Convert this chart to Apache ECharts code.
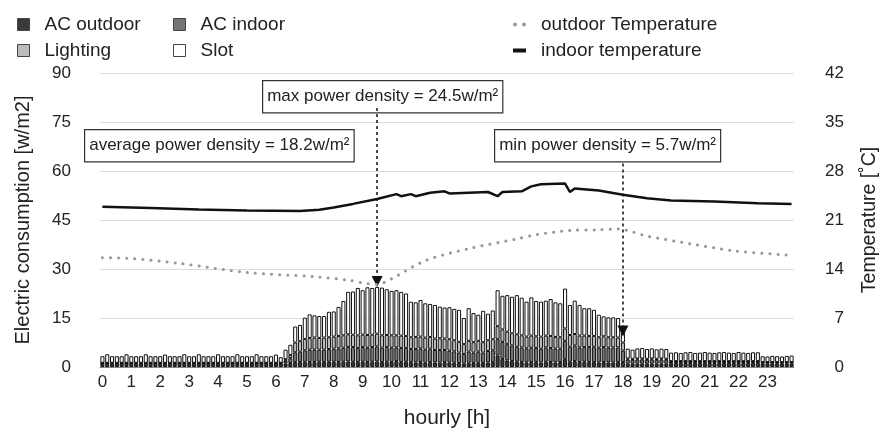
<!DOCTYPE html>
<html>
<head>
<meta charset="utf-8">
<script src="https://cdn.jsdelivr.net/npm/echarts/dist/echarts.min.js"></script>
<style>
  html, body { margin: 0; padding: 0; background: #fff; }
  #chart { width: 888px; height: 434px; }
</style>
</head>
<body>
<div id="chart"></div>
<script>
// tick labels / categories (10-minute steps)
const hours = ['0','1','2','3','4','5','6','7','8','9','10','11','12','13','14','15','16','17','18','19','20','21','22','23'];
const minutes = ['00','10','20','30','40','50'];

// total height of each stacked bar [w/m2]
const totalLoad = [
  3.3, 3.9, 3.3, 3.3, 3.3, 3.9,
  3.3, 3.3, 3.3, 3.9, 3.3, 3.3,
  3.3, 3.8, 3.3, 3.3, 3.3, 3.9,
  3.3, 3.3, 3.9, 3.3, 3.3, 3.3,
  3.9, 3.3, 3.3, 3.3, 3.9, 3.3,
  3.3, 3.3, 3.9, 3.3, 3.3, 3.3,
  3.8, 3.0, 5.3, 6.8, 12.4, 12.9,
  15.1, 16.1, 15.8, 15.6, 15.6, 16.9,
  17.0, 18.4, 20.2, 23.0, 23.1, 24.2,
  23.5, 24.4, 24.2, 24.5, 24.3, 23.8,
  23.3, 23.5, 23.0, 22.5, 20.0, 19.8,
  20.5, 19.5, 19.3, 19.0, 18.5, 18.2,
  18.3, 17.8, 17.5, 15.0, 18.0, 16.5,
  16.0, 17.2, 16.3, 17.3, 23.5, 21.8,
  22.0, 21.5, 22.0, 21.2, 20.0, 21.3,
  20.2, 20.0, 20.3, 20.8, 19.8, 19.5,
  24.0, 19.0, 20.3, 19.0, 18.0, 18.0,
  17.5, 16.0, 15.5, 15.2, 15.2, 15.0,
  10.5, 5.6, 5.3, 5.7, 5.8, 5.5,
  5.7, 5.4, 5.6, 5.5, 4.4, 4.5,
  4.3, 4.5, 4.6, 4.3, 4.4, 4.6,
  4.4, 4.3, 4.5, 4.6, 4.4, 4.3,
  4.6, 4.4, 4.3, 4.5, 4.5, 3.3,
  3.2, 3.4, 3.3, 3.2, 3.4, 3.5
];

const acOutdoor = [
  1.0, 1.0, 1.0, 1.0, 1.0, 1.0,
  1.0, 1.0, 1.0, 1.0, 1.0, 1.0,
  1.0, 1.0, 1.0, 1.0, 1.0, 1.0,
  1.0, 1.0, 1.0, 1.0, 1.0, 1.0,
  1.0, 1.0, 1.0, 1.0, 1.0, 1.0,
  1.0, 1.0, 1.0, 1.0, 1.0, 1.0,
  1.0, 1.0, 1.1, 1.2, 1.5, 1.5,
  1.6, 1.5, 1.5, 1.6, 1.5, 1.6,
  1.6, 1.5, 1.6, 1.7, 1.6, 1.5,
  1.6, 1.5, 1.6, 1.7, 1.5, 1.6,
  1.5, 1.8, 1.5, 1.6, 1.5, 1.4,
  1.5, 1.3, 1.5, 1.4, 1.3, 1.5,
  1.4, 1.3, 1.2, 1.0, 1.3, 1.2,
  1.3, 1.2, 1.4, 1.5, 3.5, 2.5,
  2.0, 1.8, 1.6, 1.5, 1.4, 1.5,
  1.5, 1.4, 1.6, 1.5, 1.4, 1.5,
  2.5, 1.6, 1.8, 1.5, 1.6, 1.5,
  1.5, 1.4, 1.5, 1.4, 1.4, 1.5,
  1.5, 1.0, 1.0, 1.0, 1.0, 1.0,
  1.0, 1.0, 1.0, 1.0, 1.2, 1.2,
  1.2, 1.2, 1.2, 1.2, 1.2, 1.2,
  1.2, 1.2, 1.2, 1.2, 1.2, 1.2,
  1.2, 1.2, 1.2, 1.2, 1.2, 1.0,
  1.0, 1.0, 1.0, 1.0, 1.0, 1.0
];

const acIndoor = [
  0.2, 0.2, 0.2, 0.2, 0.2, 0.2,
  0.2, 0.2, 0.2, 0.2, 0.2, 0.2,
  0.2, 0.2, 0.2, 0.2, 0.2, 0.2,
  0.2, 0.2, 0.2, 0.2, 0.2, 0.2,
  0.2, 0.2, 0.2, 0.2, 0.2, 0.2,
  0.2, 0.2, 0.2, 0.2, 0.2, 0.2,
  0.2, 0.2, 0.8, 1.5, 3.0, 3.2,
  3.5, 3.8, 3.8, 3.7, 3.8, 3.9,
  4.0, 4.2, 4.3, 4.4, 4.5, 4.3,
  4.5, 4.4, 4.5, 4.6, 4.4, 4.5,
  4.4, 4.2, 4.3, 4.2, 4.0, 4.1,
  4.2, 4.0, 4.1, 3.8, 3.9, 3.7,
  3.6, 3.5, 3.2, 3.0, 3.4, 3.2,
  3.4, 3.2, 3.5, 3.6, 5.0, 5.2,
  5.0, 4.8, 4.6, 4.5, 4.3, 4.4,
  4.3, 4.2, 4.4, 4.3, 4.2, 4.1,
  5.5, 4.6, 4.8, 4.5, 4.5, 4.6,
  4.7, 4.5, 4.6, 4.5, 4.6, 4.5,
  3.5, 1.3, 1.2, 1.3, 1.3, 1.2,
  1.3, 1.2, 1.3, 1.2, 0.5, 0.5,
  0.5, 0.5, 0.5, 0.5, 0.5, 0.5,
  0.5, 0.5, 0.5, 0.5, 0.5, 0.5,
  0.5, 0.5, 0.5, 0.5, 0.5, 0.4,
  0.4, 0.4, 0.4, 0.4, 0.4, 0.4
];

const lighting = [
  0.1, 0.1, 0.1, 0.1, 0.1, 0.1,
  0.1, 0.1, 0.1, 0.1, 0.1, 0.1,
  0.1, 0.1, 0.1, 0.1, 0.1, 0.1,
  0.1, 0.1, 0.1, 0.1, 0.1, 0.1,
  0.1, 0.1, 0.1, 0.1, 0.1, 0.1,
  0.1, 0.1, 0.1, 0.1, 0.1, 0.1,
  0.1, 0.1, 0.5, 1.0, 3.0, 3.2,
  3.5, 3.6, 3.7, 3.6, 3.7, 3.6,
  3.7, 3.8, 3.8, 3.9, 3.8, 3.9,
  3.8, 3.9, 3.8, 3.9, 3.8, 3.7,
  3.8, 3.7, 3.8, 3.7, 3.6, 3.7,
  3.6, 3.7, 3.6, 3.5, 3.6, 3.5,
  3.5, 3.4, 3.3, 3.0, 3.3, 3.2,
  3.3, 3.2, 3.3, 3.4, 4.0, 3.8,
  3.8, 3.7, 3.8, 3.7, 3.6, 3.7,
  3.6, 3.7, 3.6, 3.7, 3.6, 3.5,
  3.8, 3.6, 3.5, 3.6, 3.5, 3.4,
  3.3, 3.2, 3.3, 3.2, 3.1, 3.0,
  2.5, 0.3, 0.3, 0.3, 0.3, 0.3,
  0.3, 0.3, 0.3, 0.3, 0.1, 0.1,
  0.1, 0.1, 0.1, 0.1, 0.1, 0.1,
  0.1, 0.1, 0.1, 0.1, 0.1, 0.1,
  0.1, 0.1, 0.1, 0.1, 0.1, 0.1,
  0.1, 0.1, 0.1, 0.1, 0.1, 0.1
];

// temperatures [°C] read at [bar index, value]
const indoorTemp = [
  [0, 22.9], [10, 22.7], [20, 22.5], [30, 22.35], [41, 22.3], [45, 22.45],
  [48, 22.8], [52, 23.3], [57, 24.0], [61, 24.7], [62, 24.4], [64, 24.7],
  [65, 24.4], [68, 24.9], [71, 25.1], [72, 24.8], [76, 24.9], [80, 25.0],
  [82, 24.4], [83, 25.0], [87, 25.1], [89, 25.8], [91, 26.1], [96, 26.2],
  [97, 25.0], [98, 25.5], [103, 25.2], [108, 24.6], [113, 24.1], [118, 23.8],
  [127, 23.65], [136, 23.4], [143, 23.3]
];
const outdoorTemp = [
  [0, 15.6], [6, 15.5], [16, 14.8], [30, 13.5], [44, 12.9], [51, 12.4],
  [55, 11.9], [57, 11.8], [60, 12.6], [67, 15.2], [76, 16.9], [86, 18.3],
  [90, 18.9], [97, 19.5], [103, 19.6], [107, 19.7], [113, 18.7], [122, 17.6],
  [131, 16.6], [142, 16.0]
];

const categories = [];
hours.forEach(h => minutes.forEach(m => categories.push(h + ':' + m)));
const slot = totalLoad.map((t, i) => +(t - acOutdoor[i] - acIndoor[i] - lighting[i]).toFixed(2));

const FONT = 'Liberation Sans, Arial, sans-serif';
const chart = echarts.init(document.getElementById('chart'));

function barSeries(name, data, color) {
  return {
    name: name,
    type: 'bar',
    stack: 'load',
    data: data,
    barCategoryGap: '15%',
    itemStyle: { color: color, borderColor: '#111', borderWidth: 1 },
    animation: false
  };
}

function legendItem(name, left, top, extra) {
  return Object.assign({
    data: [name],
    left: left,
    top: top,
    icon: 'rect',
    itemWidth: 12,
    itemHeight: 12,
    selectedMode: false,
    itemStyle: { borderColor: '#444', borderWidth: 1 },
    textStyle: { fontFamily: FONT, fontSize: 19, color: '#222', padding: [0, 0, 0, 10] }
  }, extra || {});
}

const slotSeries = barSeries('Slot', slot, '#ffffff');
slotSeries.markLine = {
  silent: true,
  animation: false,
  symbol: ['none', 'triangle'],
  symbolSize: [11, 11],
  lineStyle: { type: [3, 3], color: '#111', width: 1.5 },
  label: { show: false },
  data: [
    [{ coord: [57, 79.3] }, { coord: [57, 26.2] }],
    [{ coord: [108, 62.3] }, { coord: [108, 11.0] }]
  ]
};

chart.setOption({
  animation: false,
  textStyle: { fontFamily: FONT },
  grid: { left: 100, right: 91, top: 73, bottom: 65 },
  legend: [
    legendItem('AC outdoor', 12, 10),
    legendItem('AC indoor', 168, 10),
    legendItem('Lighting', 12, 36),
    legendItem('Slot', 168, 36),
    legendItem('outdoor Temperature', 508, 10, {
      icon: 'path://M0,2a2,2 0 1,0 4,0a2,2 0 1,0 -4,0z M9,2a2,2 0 1,0 4,0a2,2 0 1,0 -4,0z',
      itemWidth: 13, itemHeight: 4, itemStyle: { borderWidth: 0 }
    }),
    legendItem('indoor temperature', 508, 36, {
      itemWidth: 13, itemHeight: 4, itemStyle: { borderWidth: 0 }
    })
  ],
  xAxis: {
    type: 'category',
    data: categories,
    axisTick: { show: false },
    axisLine: { lineStyle: { color: '#888' } },
    axisLabel: {
      interval: (idx) => idx % 6 === 0,
      formatter: (v) => v.split(':')[0],
      fontSize: 17,
      color: '#222',
      margin: 7
    },
    name: 'hourly [h]',
    nameLocation: 'middle',
    nameGap: 41,
    nameTextStyle: { fontSize: 21, color: '#222' }
  },
  yAxis: [
    {
      type: 'value',
      min: 0,
      max: 90,
      interval: 15,
      axisLine: { show: false },
      axisTick: { show: false },
      axisLabel: { fontSize: 17, color: '#222', margin: 29 },
      splitLine: { lineStyle: { color: '#dcdcdc' } },
      name: 'Electric consumption [w/m2]',
      nameLocation: 'middle',
      nameGap: 67,
      nameTextStyle: { fontSize: 20, color: '#222' }
    },
    {
      type: 'value',
      min: 0,
      max: 42,
      interval: 7,
      axisLine: { show: false },
      axisTick: { show: false },
      axisLabel: { fontSize: 17, color: '#222', margin: 50, align: 'right' },
      splitLine: { show: false },
      name: 'Temperature [˚C]',
      nameLocation: 'middle',
      nameGap: 66,
      nameTextStyle: { fontSize: 19.5, color: '#222' }
    }
  ],
  series: [
    barSeries('AC outdoor', acOutdoor, '#3a3a3a'),
    barSeries('AC indoor', acIndoor, '#767676'),
    barSeries('Lighting', lighting, '#bcbcbc'),
    slotSeries,
    {
      name: 'outdoor Temperature',
      type: 'line',
      yAxisIndex: 1,
      data: outdoorTemp,
      symbol: 'none',
      smooth: 0.3,
      lineStyle: { color: '#999', width: 3, type: [0.1, 8], cap: 'round' },
      itemStyle: { color: '#999' },
      z: 5
    },
    {
      name: 'indoor temperature',
      type: 'line',
      yAxisIndex: 1,
      data: indoorTemp,
      symbol: 'none',
      lineStyle: { color: '#111', width: 2.5 },
      itemStyle: { color: '#111' },
      z: 5
    }
  ],
  graphic: [
    {
      type: 'text', left: 262, top: 80,
      style: {
        text: 'max power density = 24.5w/m²', font: '17px ' + FONT, fill: '#222',
        backgroundColor: '#fff', borderColor: '#333', borderWidth: 1.2, padding: [7, 4, 7, 4]
      }
    },
    {
      type: 'text', left: 84, top: 129,
      style: {
        text: 'average power density = 18.2w/m²', font: '17px ' + FONT, fill: '#222',
        backgroundColor: '#fff', borderColor: '#333', borderWidth: 1.2, padding: [7, 4, 7, 4]
      }
    },
    {
      type: 'text', left: 494, top: 129,
      style: {
        text: 'min power density = 5.7w/m²', font: '17px ' + FONT, fill: '#222',
        backgroundColor: '#fff', borderColor: '#333', borderWidth: 1.2, padding: [7, 4, 7, 4]
      }
    }
  ]
});
</script>
</body>
</html>
